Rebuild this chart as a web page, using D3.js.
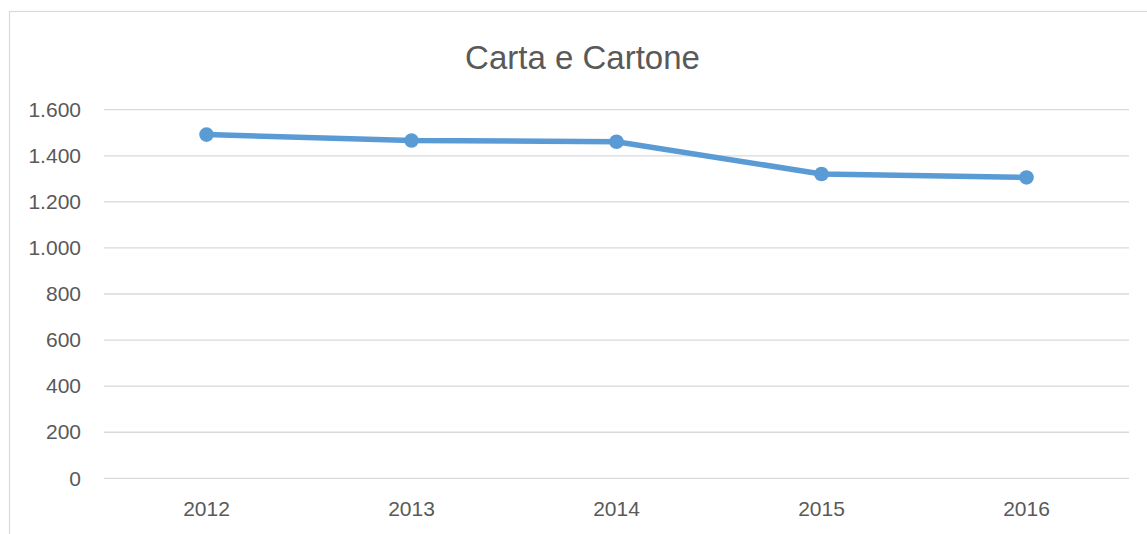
<!DOCTYPE html>
<html>
<head>
<meta charset="utf-8">
<script src="https://cdn.jsdelivr.net/npm/d3@7"></script>
<style>
  html, body { margin: 0; padding: 0; background: #fff; }
  svg { display: block; }
</style>
</head>
<body>
<script>
const title = "Carta e Cartone";
const categories = ["2012", "2013", "2014", "2015", "2016"];
const values = [1492, 1466, 1461, 1321, 1306];
const yTicks = [0, 200, 400, 600, 800, 1000, 1200, 1400, 1600];

const W = 1147, H = 534;
const svg = d3.select("body").append("svg").attr("width", W).attr("height", H);

svg.append("rect")
  .attr("x", 9.5).attr("y", 11.5)
  .attr("width", 1200).attr("height", 600)
  .attr("fill", "#fff").attr("stroke", "#d9d9d9").attr("stroke-width", 1.2);

const x = d3.scaleBand().domain(categories).range([104, 1129]);
const y = d3.scaleLinear().domain([0, 1600]).range([478.3, 109.7]);

const fmt = d => d3.format(",")(d).replace(/,/g, ".");

// gridlines
svg.append("g").selectAll("line").data(yTicks).join("line")
  .attr("x1", 104).attr("x2", 1129)
  .attr("y1", d => y(d)).attr("y2", d => y(d))
  .attr("stroke", "#d9d9d9").attr("stroke-width", 1.3);

// y axis
const yAxis = d3.axisLeft(y).tickValues(yTicks).tickFormat(fmt).tickSize(0).tickPadding(23);
const gy = svg.append("g").attr("transform", "translate(104,0)").call(yAxis);
gy.select(".domain").remove();
gy.selectAll("text")
  .attr("font-family", "'Liberation Sans', Arial, sans-serif")
  .attr("font-size", 21).attr("fill", "#595959");

// x axis
const xAxis = d3.axisBottom(x).tickSize(0).tickPadding(23);
const gx = svg.append("g").attr("transform", "translate(0,478.3)").call(xAxis);
gx.select(".domain").remove();
gx.selectAll("text")
  .attr("font-family", "'Liberation Sans', Arial, sans-serif")
  .attr("font-size", 21).attr("fill", "#595959");

// line
const cx = d => x(d) + x.bandwidth() / 2;
const line = d3.line().x((d, i) => cx(categories[i])).y(d => y(d));
svg.append("path").datum(values)
  .attr("d", line).attr("fill", "none")
  .attr("stroke", "#5b9bd5").attr("stroke-width", 5.5)
  .attr("stroke-linejoin", "round").attr("stroke-linecap", "round");

svg.append("g").selectAll("circle").data(values).join("circle")
  .attr("cx", (d, i) => cx(categories[i])).attr("cy", d => y(d))
  .attr("r", 7.3).attr("fill", "#5b9bd5");

// title
svg.append("text")
  .attr("x", 582.5).attr("y", 69.3)
  .attr("text-anchor", "middle")
  .attr("font-family", "'Liberation Sans', Arial, sans-serif")
  .attr("font-size", 33).attr("fill", "#595959")
  .text(title);
</script>
</body>
</html>
